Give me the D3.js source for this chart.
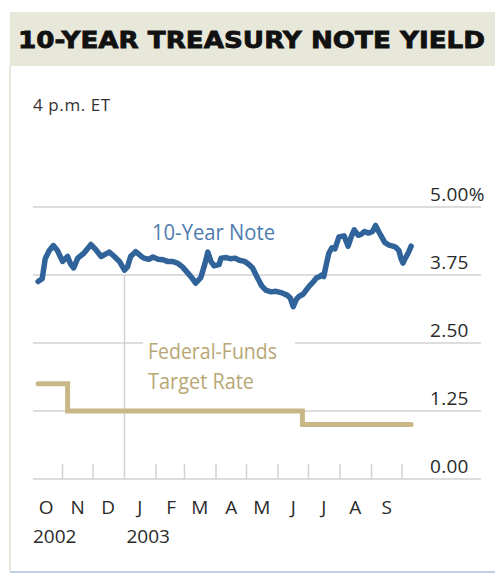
<!DOCTYPE html>
<html>
<head>
<meta charset="utf-8">
<script src="https://cdn.jsdelivr.net/npm/d3@7"></script>
<style>
  body { margin: 0; background: #fff; }
  svg { display: block; }
</style>
</head>
<body>
<script>
// size of the page
var w = 495;
var h = 573;

// 10-year note yield, daily-ish readings (percent)
var noteDates = [
  "2002-10-08","2002-10-12","2002-10-15","2002-10-19","2002-10-23","2002-10-27",
  "2002-11-01","2002-11-06","2002-11-09","2002-11-12","2002-11-16","2002-11-22","2002-11-29",
  "2002-12-04","2002-12-09","2002-12-17","2002-12-22","2002-12-27",
  "2003-01-01","2003-01-04","2003-01-07","2003-01-12","2003-01-17","2003-01-20","2003-01-25","2003-01-29",
  "2003-02-03","2003-02-08","2003-02-12","2003-02-17","2003-02-22","2003-02-27",
  "2003-03-05","2003-03-09","2003-03-12","2003-03-17","2003-03-21","2003-03-24","2003-03-27","2003-03-30",
  "2003-04-04","2003-04-06","2003-04-11","2003-04-15","2003-04-20","2003-04-24","2003-04-29",
  "2003-05-03","2003-05-07","2003-05-12","2003-05-16","2003-05-20","2003-05-25","2003-05-30",
  "2003-06-05","2003-06-10","2003-06-13","2003-06-16","2003-06-19","2003-06-22","2003-06-26","2003-06-29",
  "2003-07-02","2003-07-06","2003-07-09","2003-07-12","2003-07-14","2003-07-16","2003-07-18",
  "2003-07-21","2003-07-24","2003-07-27","2003-07-31",
  "2003-08-05","2003-08-09","2003-08-12","2003-08-15","2003-08-19","2003-08-22","2003-08-25","2003-08-29",
  "2003-09-02","2003-09-05","2003-09-08","2003-09-11","2003-09-14","2003-09-18","2003-09-22",
  "2003-09-25","2003-09-28","2003-09-30",
  "2003-10-02","2003-10-04","2003-10-07","2003-10-10"
];
var noteYields = [
  3.63, 3.68, 4.05, 4.20, 4.29, 4.20,
  4.00, 4.09, 3.95, 3.88, 4.06, 4.15, 4.31,
  4.21, 4.09, 4.17, 4.09, 4.00,
  3.84, 3.90, 4.09, 4.18, 4.10, 4.06, 4.04, 4.08,
  4.04, 4.03, 4.00, 4.00, 3.97, 3.90,
  3.77, 3.68, 3.60, 3.70, 3.95, 4.17, 4.00, 3.92,
  3.94, 4.06, 4.07, 4.05, 4.06, 4.02, 4.00,
  3.95, 3.88, 3.69, 3.55, 3.47, 3.44, 3.45,
  3.42, 3.38, 3.33, 3.17, 3.30, 3.36, 3.40, 3.48,
  3.55, 3.63, 3.70, 3.72, 3.75, 3.72, 3.90,
  4.15, 4.25, 4.23, 4.45,
  4.47, 4.28, 4.45, 4.58, 4.48, 4.50, 4.55, 4.52,
  4.55, 4.66, 4.55, 4.45, 4.35, 4.30, 4.28,
  4.26, 4.20, 4.05,
  3.97, 4.05, 4.15, 4.28
];

// federal-funds target rate changes (percent)
var fedDates = ["2002-10-08", "2002-11-06", "2003-06-25", "2003-10-10"];
var fedRates = [1.75, 1.25, 1.00, 1.00];

// axis labels
var yTicks = [0, 1.25, 2.5, 3.75, 5];
var yLabels = ["0.00", "1.25", "2.50", "3.75", "5.00%"];
var monthLabels = ["O", "N", "D", "J", "F", "M", "A", "M", "J", "J", "A", "S"];
var yearLabels = ["2002", "2003"];
var yearDates = ["2002-10-01", "2003-01-01"];

var parse = d3.timeParse("%Y-%m-%d");

var note = noteDates.map(function(d, i) {
  return { date: parse(d), value: noteYields[i] };
});
var fed = fedDates.map(function(d, i) {
  return { date: parse(d), value: fedRates[i] };
});

// plot frame
var left = 33, right = 481;
var labelFont = "'Open Sans', sans-serif";

var xScale = d3.scaleTime()
  .domain([parse("2002-10-01"), parse("2003-10-01")])
  .range([31, 402]);

var yScale = d3.scaleLinear()
  .domain([0, 5])
  .range([479, 207]);

var svg = d3.select("body")
  .append("svg")
  .attr("width", w)
  .attr("height", h);

// header band
svg.append("rect")
  .attr("x", 10).attr("y", 12)
  .attr("width", w - 10).attr("height", 54)
  .attr("fill", "#e8e8da");

svg.append("text")
  .attr("x", 18).attr("y", 48)
  .attr("font-family", "'DejaVu Sans', sans-serif")
  .attr("font-weight", "bold")
  .attr("font-size", "23px")
  .attr("textLength", 467)
  .attr("lengthAdjust", "spacingAndGlyphs")
  .attr("fill", "#111")
  .attr("stroke", "#111")
  .attr("stroke-width", 0.8)
  .text("10-YEAR TREASURY NOTE YIELD");

// frame lines
svg.append("line")
  .attr("x1", 10).attr("x2", 10)
  .attr("y1", 66).attr("y2", 572)
  .attr("stroke", "#e2dfcc").attr("stroke-width", 1.5);

svg.append("line")
  .attr("x1", 10).attr("x2", w)
  .attr("y1", 572).attr("y2", 572)
  .attr("stroke", "#a9c1da").attr("stroke-width", 1.5);

svg.append("text")
  .attr("x", 33).attr("y", 111)
  .attr("font-family", labelFont)
  .attr("font-size", "17px")
  .attr("letter-spacing", "0.6px")
  .attr("fill", "#333")
  .text("4 p.m. ET");

// horizontal gridlines
svg.selectAll("line.grid")
  .data(yTicks)
  .enter()
  .append("line")
  .attr("class", "grid")
  .attr("x1", left).attr("x2", right)
  .attr("y1", d => yScale(d)).attr("y2", d => yScale(d))
  .attr("stroke", "#d2d2d2")
  .attr("stroke-width", 1.5);

svg.selectAll("text.ylab")
  .data(yTicks)
  .enter()
  .append("text")
  .attr("class", "ylab")
  .attr("x", 430)
  .attr("y", d => yScale(d) - 6)
  .attr("font-family", labelFont)
  .attr("font-size", "19px")
  .attr("letter-spacing", "0.3px")
  .attr("fill", "#2a2a2a")
  .text((d, i) => yLabels[i]);

// month ticks (January gets the tall rule)
var monthTicks = d3.timeMonth.range(parse("2002-11-01"), parse("2003-10-02"));
svg.selectAll("line.mtick")
  .data(monthTicks)
  .enter()
  .append("line")
  .attr("class", "mtick")
  .attr("x1", d => xScale(d)).attr("x2", d => xScale(d))
  .attr("y1", yScale(0))
  .attr("y2", d => d.getMonth() === 0 ? yScale(3.75) : yScale(0) - 15)
  .attr("stroke", "#d2d2d2")
  .attr("stroke-width", 1.5);

var monthStarts = d3.timeMonth.range(parse("2002-10-01"), parse("2003-10-01"));
svg.selectAll("text.mlab")
  .data(monthStarts)
  .enter()
  .append("text")
  .attr("class", "mlab")
  .attr("x", d => xScale(d3.timeDay.offset(d, 15)))
  .attr("y", 514)
  .attr("text-anchor", "middle")
  .attr("font-family", labelFont)
  .attr("font-size", "19px")
  .attr("fill", "#2a2a2a")
  .text((d, i) => monthLabels[i]);

svg.selectAll("text.yr")
  .data(yearDates)
  .enter()
  .append("text")
  .attr("class", "yr")
  .attr("x", d => xScale(parse(d)) + 2)
  .attr("y", 543)
  .attr("font-family", labelFont)
  .attr("font-size", "19px")
  .attr("fill", "#2a2a2a")
  .text((d, i) => yearLabels[i]);

// Federal-funds label with knockout behind it
var fedLabel = svg.append("g");
fedLabel.append("rect")
  .attr("x", 143).attr("y", 334)
  .attr("width", 152).attr("height", 62)
  .attr("fill", "#fff");
fedLabel.selectAll("text")
  .data(["Federal-Funds", "Target Rate"])
  .enter()
  .append("text")
  .attr("x", 148)
  .attr("y", (d, i) => 359 + i * 30)
  .attr("font-family", labelFont)
  .attr("font-size", "22px")
  .attr("textLength", (d, i) => i === 0 ? 129 : 106)
  .attr("lengthAdjust", "spacingAndGlyphs")
  .attr("fill", "#b8a774")
  .text(d => d);

// lines
svg.append("path")
  .datum(fed)
  .attr("d", d3.line()
    .x(d => xScale(d.date))
    .y(d => yScale(d.value))
    .curve(d3.curveStepAfter))
  .attr("fill", "none")
  .attr("stroke", "#c9b887")
  .attr("stroke-width", 5)
  .attr("stroke-linecap", "round");

svg.append("path")
  .datum(note)
  .attr("d", d3.line().x(d => xScale(d.date)).y(d => yScale(d.value)))
  .attr("fill", "none")
  .attr("stroke", "#2f6399")
  .attr("stroke-width", 5.5)
  .attr("stroke-linejoin", "round")
  .attr("stroke-linecap", "round");

svg.append("text")
  .attr("x", 152).attr("y", 240)
  .attr("font-family", labelFont)
  .attr("font-size", "22px")
  .attr("textLength", 123)
  .attr("lengthAdjust", "spacingAndGlyphs")
  .attr("fill", "#4d7cb0")
  .text("10-Year Note");
</script>
</body>
</html>
